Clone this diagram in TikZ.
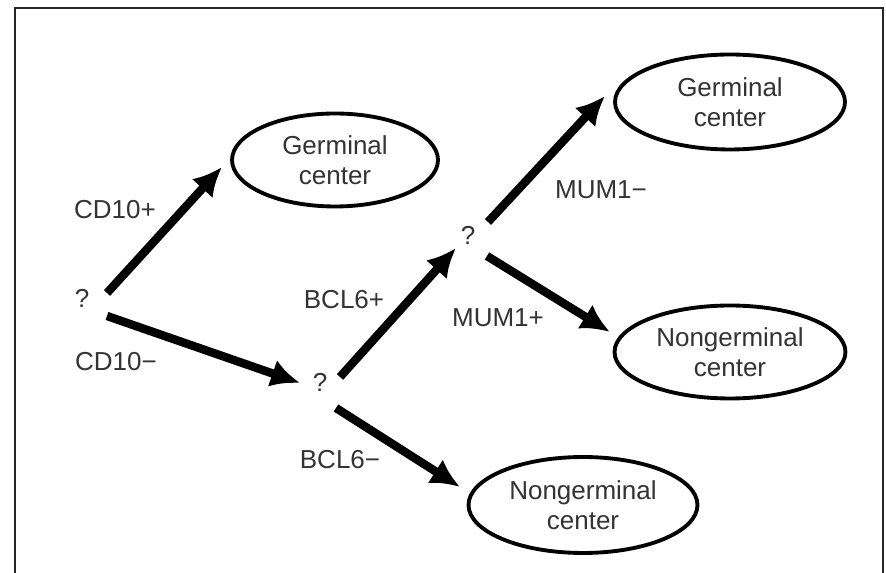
\documentclass[tikz,border=0pt]{standalone}
\usepackage{fontspec}
\setmainfont{Liberation Sans}
\usepackage{tikz}
\usetikzlibrary{shapes.geometric}
\usetikzlibrary{arrows.meta}

\begin{document}
\begin{tikzpicture}[x=0.02cm, y=-0.02cm,
		every node/.style={text=black!80, font=\fontsize{14.8}{17.2}\selectfont, align=center},
		cell/.style={ellipse, draw=black, line width=2.2pt, inner sep=0pt},
		arr/.style={-{Latex[length=16.5pt, width=16pt]}, line width=4.8pt, black}]
			\useasboundingbox (0,0) rectangle (886,573);
			% Frame
			\draw[black!85, line width=1.6pt] (15,573) -- (15,8) -- (883,8) -- (883,573);
			% Nodes
			\node (q1) at (82,298) {?};
			\node (q2) at (320,382) {?};
			\node (q3) at (468,235) {?};
			\node[cell, minimum width=4.12cm, minimum height=1.86cm] (gc1) at (335,160) {Germinal\\center};
			\node[cell, minimum width=4.6cm, minimum height=1.9cm] (gc2) at (730,102) {Germinal\\center};
			\node[cell, minimum width=4.62cm, minimum height=1.86cm] (ngc1) at (730,352) {Nongerminal\\center};
			\node[cell, minimum width=4.58cm, minimum height=1.92cm] (ngc2) at (583,505) {Nongerminal\\center};
			% Arrows
			\draw[arr] ([shift={(25,-5)}]q1.center) -- ([shift={(-113,7)}]gc1.center);
			\draw[arr] ([shift={(25,18)}]q1.center) -- ([shift={(-20,1)}]q2.center);
			\draw[arr] ([shift={(20,-5)}]q2.center) -- ([shift={(-12,13)}]q3.center);
			\draw[arr] ([shift={(16,26)}]q2.center) -- ([shift={(-123,-18)}]ngc2.center);
			\draw[arr] ([shift={(20,-13)}]q3.center) -- ([shift={(-125,-6)}]gc2.center);
			\draw[arr] ([shift={(19,21)}]q3.center) -- ([shift={(-120,-20)}]ngc1.center);
			% Labels
			\node (cdp) at (115,210) {CD10+};
			\node (cdm) at (116,362) {CD10−};
			\node (bclp) at (344,300) {BCL6+};
			\node (bclm) at (340,460) {BCL6−};
			\node (mump) at (498,318) {MUM1+};
			\node (mumm) at (601,190) {MUM1−};
		\end{tikzpicture}
\end{document}
